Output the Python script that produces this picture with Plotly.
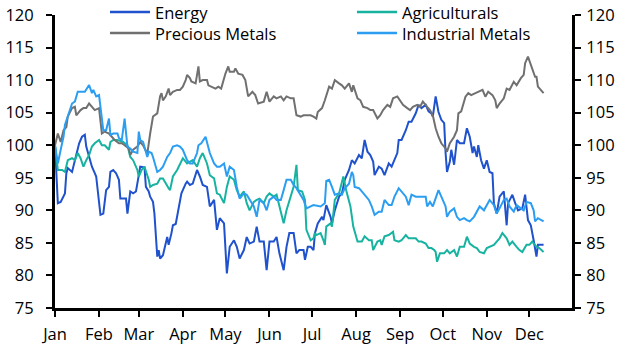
import pandas as pd
import plotly.graph_objects as go

base = pd.Timestamp("2023-01-01")

# (day offset from 1 Jan, index value)
energy = [(0,100),(2,91.1),(4,91.3),(6,92.1),(7,92.6),(8,95.7),(9,96.5),(12,95.9),(14,97.7),(15,98.2),(17,100.3),(19,101.3),(21,101.6),(22,99.8),(24,98.2),(25,97.7),(26,96.7),(28,95.7),(29,95.2),(32,89.3),(34,89.5),(36,93.1),(38,93.6),(39,95.9),(41,96.2),(43,95.7),(45,94.7),(46,91.8),(48,91.8),(50,91.8),(51,89.5),(53,92.9),(55,92.6),(57,92.9),(59,95.4),(60,96.7),(63,96.6),(64,93.6),(66,92.9),(67,92.1),(69,91.3),(70,89.5),(72,82.9),(73,83.9),(74,82.6),(76,83.1),(79,85.9),(80,84.7),(82,86.5),(83,87.7),(85,87.9),(87,90.3),(89,92.6),(92,94.1),(93,94.4),(95,93.9),(97,94.1),(100,96.2),(102,95.2),(104,93.9),(107,93.6),(109,90.6),(112,91.6),(114,87.0),(116,88.8),(119,88.0),(121,80.3),(123,84.4),(126,85.4),(128,84.4),(130,82.6),(133,83.9),(135,85.9),(137,84.9),(140,85.2),(142,87.5),(144,85.2),(147,85.2),(149,80.8),(151,85.2),(154,85.2),(156,85.9),(158,83.4),(161,80.8),(163,84.4),(165,86.5),(168,86.5),(170,83.4),(172,83.9),(175,83.9),(176,82.4),(178,84.4),(180,84.4),(182,83.9),(183,86.5),(185,88.0),(188,89.0),(189,88.5),(191,90.8),(194,89.0),(195,88.0),(197,90.0),(200,92.1),(202,92.6),(204,94.7),(207,96.2),(209,97.7),(211,97.2),(214,98.5),(216,98.0),(218,100.8),(220,99.0),(222,98.5),(224,97.5),(225,95.4),(228,96.7),(230,96.4),(232,95.4),(235,97.2),(237,96.7),(239,97.7),(241,98.8),(242,100.8),(244,100.8),(247,102.3),(249,103.6),(251,103.6),(254,104.9),(256,106.2),(258,105.7),(261,106.2),(263,105.2),(265,104.9),(266,104.4),(268,107.5),(270,105.1),(272,103.9),(274,103.4),(275,98.8),(276,95.9),(278,97.5),(279,99.3),(281,97.0),(283,100.8),(285,100.3),(288,100.3),(290,102.6),(292,101.3),(294,98.8),(295,99.8),(297,98.2),(298,100.0),(300,97.7),(302,96.4),(304,97.7),(306,95.9),(308,95.7),(309,91.1),(311,89.5),(313,92.1),(316,92.9),(318,87.7),(319,91.1),(322,92.4),(324,91.1),(326,90.0),(329,90.3),(331,92.4),(333,88.5),(335,87.7),(337,85.4),(339,82.9),(340,84.7),(344,84.7)]

agriculturals = [(0,100),(2,96.2),(5,96.2),(7,95.9),(9,97.7),(12,98.0),(14,97.7),(16,98.8),(18,98.0),(20,96.7),(22,97.7),(24,98.5),(26,99.8),(28,100.3),(31,100.8),(33,100.0),(35,100.0),(38,99.3),(39,100.5),(41,100.8),(44,100.8),(46,100.7),(48,100.5),(51,100.0),(53,98.2),(55,97.7),(58,96.2),(59,95.2),(61,96.2),(63,96.7),(66,94.7),(67,93.6),(69,93.9),(72,94.1),(74,94.9),(76,94.9),(79,93.6),(80,93.4),(81,93.1),(83,95.2),(86,96.2),(88,97.2),(90,98.0),(93,97.2),(95,97.5),(97,97.7),(100,96.7),(102,98.0),(104,98.8),(107,97.2),(109,95.4),(112,94.9),(114,92.6),(116,92.4),(119,91.1),(121,93.6),(123,95.2),(126,94.7),(128,93.1),(130,92.1),(133,92.9),(135,91.1),(137,90.0),(140,91.3),(142,91.6),(144,91.8),(147,91.1),(149,92.1),(151,92.6),(154,92.1),(156,92.4),(159,89.5),(161,88.0),(163,90.0),(166,92.1),(168,93.6),(170,97.0),(171,93.1),(174,92.9),(176,91.6),(177,87.0),(180,85.4),(182,85.7),(183,86.5),(184,86.2),(187,86.5),(189,85.4),(190,84.7),(191,87.5),(194,88.0),(195,87.5),(197,91.6),(200,92.6),(202,94.1),(203,95.2),(205,93.1),(208,90.6),(210,87.5),(213,85.2),(216,85.2),(218,86.0),(221,85.4),(223,85.4),(224,83.9),(227,85.2),(229,85.4),(230,84.7),(232,86.0),(235,86.2),(238,86.7),(239,85.4),(242,85.2),(244,85.4),(247,86.2),(249,85.7),(251,85.7),(254,85.7),(256,85.2),(258,85.2),(261,84.9),(263,84.2),(265,84.2),(267,83.9),(268,83.6),(269,82.1),(271,83.4),(274,83.4),(276,83.9),(278,83.4),(281,83.9),(283,82.9),(285,84.4),(288,84.4),(290,85.95),(292,84.9),(295,84.4),(297,84.2),(299,83.6),(302,83.4),(304,84.2),(306,84.4),(309,84.7),(311,85.2),(313,85.7),(315,86.5),(318,85.7),(320,84.7),(322,85.2),(325,84.4),(327,83.9),(329,83.6),(332,84.7),(334,84.7),(336,85.2),(339,84.4),(341,84.2),(344,83.6)]

precious_metals = [(0,100),(2,101.8),(4,100.5),(6,102.3),(8,102.8),(9,104.4),(12,105.7),(14,105.9),(15,104.6),(18,105.4),(20,105.7),(22,105.7),(24,106.4),(26,105.9),(28,105.4),(31,105.7),(32,103.9),(33,101.8),(35,102.1),(38,101.8),(40,101.3),(42,100.8),(45,100.3),(47,100.3),(49,100.0),(52,99.5),(53,98.5),(55,99.3),(58,99.8),(60,100.5),(62,100.0),(65,98.7),(67,101.8),(69,104.4),(72,104.9),(74,107.5),(75,108.0),(76,106.9),(78,107.5),(80,108.7),(81,107.7),(83,108.2),(86,108.5),(88,108.5),(90,109.0),(92,110.0),(93,110.8),(95,110.3),(96,109.8),(99,109.5),(101,112.1),(102,109.8),(104,110.0),(107,110.0),(108,109.2),(110,109.0),(113,108.7),(115,109.0),(117,108.7),(120,111.0),(122,112.1),(123,111.3),(126,111.3),(127,111.8),(129,111.0),(132,110.8),(134,110.0),(136,107.5),(139,108.2),(141,107.7),(143,106.4),(147,106.7),(149,108.2),(151,106.7),(154,107.5),(156,107.2),(159,107.5),(161,106.9),(163,107.5),(166,107.2),(168,107.2),(170,104.6),(173,104.4),(175,104.6),(177,104.6),(180,104.6),(182,104.4),(184,104.1),(185,105.1),(188,105.7),(190,106.9),(193,109.0),(195,108.7),(197,110.0),(200,109.5),(202,109.2),(204,108.7),(207,109.5),(209,108.2),(210,109.2),(213,107.2),(215,106.9),(217,105.9),(220,105.7),(222,105.4),(224,105.4),(227,104.1),(229,104.6),(231,105.4),(234,106.2),(236,105.9),(238,107.2),(241,107.5),(243,106.9),(245,106.2),(248,105.7),(250,105.4),(252,105.9),(255,106.2),(257,105.9),(259,106.7),(262,105.9),(264,105.4),(266,104.6),(268,102.6),(270,101.3),(272,100.3),(275,99.5),(276,99.0),(278,100.3),(281,101.3),(283,102.3),(284,104.9),(286,105.2),(289,107.45),(291,108.0),(293,107.7),(296,108.0),(298,108.2),(301,108.5),(303,107.45),(305,108.2),(308,107.7),(310,106.9),(311,105.7),(313,106.4),(316,107.2),(318,108.7),(320,108.5),(323,109.75),(325,109.2),(328,110.3),(330,110.8),(331,112.6),(333,113.6),(335,112.3),(337,111.3),(338,110.5),(339,110.5),(340,109.0),(342,108.5),(344,108.0)]

industrial_metals = [(0,100),(2,97.2),(4,99.3),(6,101.3),(7,103.1),(9,104.4),(12,106.4),(14,106.7),(16,108.2),(19,108.2),(21,108.2),(24,109.25),(26,108.0),(27,108.5),(29,107.5),(31,107.7),(32,105.9),(33,103.9),(34,102.3),(36,102.3),(38,104.1),(39,101.6),(41,101.8),(44,101.8),(45,101.1),(47,100.8),(49,104.1),(51,99.8),(53,99.5),(55,99.0),(58,98.8),(59,102.1),(60,100.8),(62,100.5),(65,98.2),(66,99.0),(68,98.8),(69,98.2),(72,95.9),(74,96.2),(76,96.7),(79,98.2),(81,98.8),(83,99.8),(86,100.0),(88,99.8),(90,99.3),(93,97.7),(95,97.2),(97,97.2),(100,98.8),(101,100.0),(103,100.3),(106,101.3),(107,100.3),(109,98.8),(112,97.2),(114,96.7),(116,96.7),(119,97.2),(121,95.2),(123,96.7),(126,96.2),(128,93.6),(130,91.8),(133,92.6),(135,92.4),(137,91.6),(140,90.6),(142,89.0),(144,91.6),(147,91.1),(149,90.0),(151,91.6),(154,92.1),(156,91.6),(159,91.6),(161,93.1),(163,94.7),(166,94.7),(168,93.9),(170,93.4),(173,92.4),(175,91.6),(177,90.3),(180,90.6),(182,90.8),(187,90.6),(190,91.1),(191,94.5),(193,94.7),(195,93.6),(197,92.4),(200,92.6),(202,92.4),(204,93.4),(207,94.1),(209,95.9),(210,95.4),(211,93.6),(214,93.4),(216,92.9),(218,92.4),(221,91.6),(223,90.6),(225,89.3),(228,89.8),(230,89.8),(232,91.6),(235,90.8),(237,90.8),(239,92.1),(242,93.4),(244,92.9),(247,92.1),(249,90.8),(251,92.4),(254,92.1),(256,92.1),(258,92.1),(261,92.1),(262,90.6),(264,91.3),(266,90.6),(270,93.1),(272,92.1),(275,90.6),(276,89.0),(278,89.8),(281,90.3),(283,89.0),(285,88.5),(288,88.8),(290,88.5),(292,88.3),(295,89.0),(297,89.8),(299,90.6),(302,90.0),(304,90.8),(306,91.6),(309,90.8),(311,89.5),(313,90.3),(316,91.6),(318,91.8),(320,90.6),(323,89.8),(325,90.8),(328,90.3),(330,90.0),(332,91.3),(335,91.1),(337,90.0),(338,88.3),(340,88.8),(344,88.3)]

series_names = ["Energy", "Agriculturals", "Precious Metals", "Industrial Metals"]
series_data = [energy, agriculturals, precious_metals, industrial_metals]
series_colors = ["#1f52cc", "#17b3a0", "#707070", "#2b9ef2"]

y_ticks = [75, 80, 85, 90, 95, 100, 105, 110, 115, 120]

FONT = "Open Sans"


def to_xy(pairs):
    xs = [base + pd.Timedelta(days=d) for d, _ in pairs]
    ys = [v for _, v in pairs]
    return xs, ys


fig = go.Figure()
for name, data, color in zip(series_names, series_data, series_colors):
    xs, ys = to_xy(data)
    fig.add_trace(go.Scatter(x=xs, y=ys, name=name, mode="lines",
                             line=dict(color=color, width=2)))

# invisible trace to activate the right-hand axis
xs, ys = to_xy(energy)
fig.add_trace(go.Scatter(x=xs, y=ys, yaxis="y2", mode="lines", opacity=0,
                         line=dict(width=0), showlegend=False, hoverinfo="skip"))

axis_common = dict(showline=True, linecolor="black", linewidth=3, ticks="outside",
                   ticklen=6, tickwidth=2, tickcolor="black", showgrid=False,
                   zeroline=False, automargin=False,
                   tickfont=dict(size=16.5, color="black", family=FONT))

# Legend drawn as a 2x2 grid (paper coordinates): key lines + one text block per column
legend_cols_x = [0.1064, 0.5841]   # key line start
legend_line_len = 0.0774
legend_rows_y = [1.0102, 0.9386]
shapes, annotations = [], []
for i, color in enumerate(series_colors):
    row, col = divmod(i, 2)
    x0 = legend_cols_x[col]
    y = legend_rows_y[row]
    shapes.append(dict(type="line", xref="paper", yref="paper", x0=x0, x1=x0 + legend_line_len,
                       y0=y, y1=y, line=dict(color=color, width=2.5)))
for col in range(2):
    names = [series_names[col], series_names[col + 2]]
    annotations.append(dict(xref="paper", yref="paper",
                            x=legend_cols_x[col] + legend_line_len + 0.005,
                            y=sum(legend_rows_y) / 2, xanchor="left", yanchor="middle",
                            align="left", text="<br>".join(names), showarrow=False,
                            font=dict(size=16.5, color="black", family=FONT)))

fig.update_layout(
    width=628, height=352,
    margin=dict(l=55, r=56, t=15, b=44),
    paper_bgcolor="white", plot_bgcolor="white",
    font=dict(family=FONT, size=16, color="black"),
    xaxis=dict(type="date", range=["2023-01-01", "2023-12-31"], dtick="M1",
               tick0="2023-01-01", tickformat="%b", ticklabelstandoff=3, **axis_common),
    yaxis=dict(range=[75, 120], tickvals=y_ticks, ticklabelstandoff=9, **axis_common),
    yaxis2=dict(range=[75, 120], tickvals=y_ticks, overlaying="y", side="right",
                ticklabelstandoff=2, **axis_common),
    showlegend=False,
    shapes=shapes,
    annotations=annotations,
)

fig.write_html("out.html")
